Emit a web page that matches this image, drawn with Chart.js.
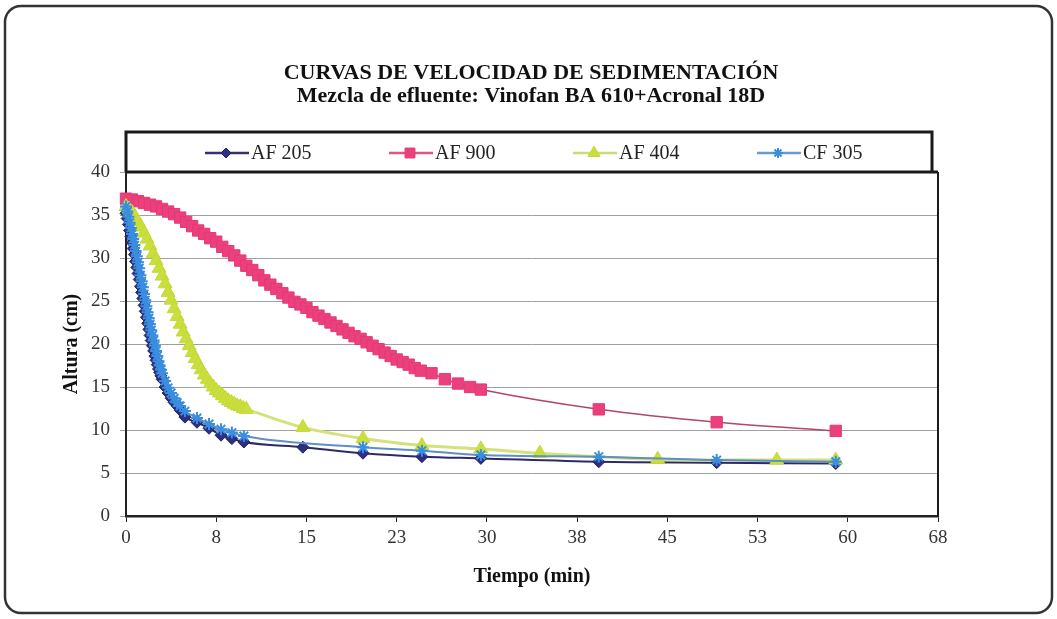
<!DOCTYPE html>
<html>
<head>
<meta charset="utf-8">
<script src="https://cdn.jsdelivr.net/npm/chart.js"></script>
<style>
  html, body { margin: 0; padding: 0; background: #fff; }
  #wrap { width: 1057px; height: 619px; }
</style>
</head>
<body>
<div id="wrap"><canvas id="sedChart" width="1057" height="619"></canvas></div>
<script>
// Tiempo (min) / altura (cm)
const af205Time = [0, 0.1, 0.2, 0.3, 0.4, 0.5, 0.6, 0.7, 0.8, 0.9, 1.0, 1.1, 1.2, 1.3, 1.4, 1.5, 1.6, 1.7, 1.8, 1.9,
  2.0, 2.1, 2.2, 2.3, 2.4, 2.5, 2.6, 2.7, 2.8, 2.9, 3.0, 3.25, 3.5, 3.75, 4.0, 4.25, 4.5,
  4.9, 5.9, 6.9, 7.9, 8.8, 9.8, 14.7, 19.7, 24.6, 29.5, 39.3, 49.1, 59.0];
const af205Height = [35.2, 34.6, 33.9, 33.2, 32.5, 31.8, 31.1, 30.4, 29.6, 28.9, 28.2, 27.5, 26.7, 26.0, 25.3, 24.5, 23.8, 23.1, 22.4, 21.7,
  21.0, 20.4, 19.8, 19.2, 18.6, 18.1, 17.6, 17.1, 16.7, 16.3, 15.9, 15.0, 14.3, 13.7, 13.2, 12.8, 12.3,
  11.5, 10.9, 10.2, 9.4, 9.0, 8.6, 8.0, 7.3, 6.9, 6.7, 6.3, 6.2, 6.1];

const af900Time = [0, 0.5, 1, 1.5, 2, 2.5, 3, 3.5, 4, 4.5, 5, 5.5, 6, 6.5, 7, 7.5, 8, 8.5, 9, 9.5,
  10, 10.5, 11, 11.5, 12, 12.5, 13, 13.5, 14, 14.5, 15, 15.5, 16, 16.5, 17, 17.5, 18, 18.5, 19, 19.5,
  20, 20.5, 21, 21.5, 22, 22.5, 23, 23.5, 24, 24.5, 25.4, 26.5, 27.6, 28.6, 29.5, 39.3, 49.1, 59.0];
const af900Height = [36.9, 36.8, 36.6, 36.4, 36.2, 36.0, 35.7, 35.4, 35.1, 34.7, 34.2, 33.7, 33.2, 32.8, 32.3, 31.9, 31.3, 30.8, 30.3, 29.7,
  29.1, 28.6, 28.0, 27.4, 26.9, 26.4, 25.9, 25.4, 24.9, 24.6, 24.2, 23.7, 23.3, 22.9, 22.5, 22.1, 21.7, 21.3, 20.9, 20.6,
  20.2, 19.8, 19.4, 19.0, 18.6, 18.2, 17.9, 17.6, 17.2, 16.9, 16.6, 15.9, 15.4, 15.0, 14.7, 12.4, 10.9, 9.9];

const af404Time = [0, 0.25, 0.5, 0.75, 1.0, 1.25, 1.5, 1.75, 2.0, 2.25, 2.5, 2.75, 3.0, 3.25, 3.5, 3.75, 4.0, 4.25, 4.5, 4.75,
  5.0, 5.25, 5.5, 5.75, 6.0, 6.25, 6.5, 6.75, 7.0, 7.25, 7.5, 7.75, 8.0, 8.25, 8.5, 8.75, 9.0, 9.25, 9.5, 9.75,
  10.0, 14.7, 19.7, 24.6, 29.5, 34.4, 44.2, 54.1, 59.0];
const af404Height = [36.0, 35.7, 35.3, 34.8, 34.2, 33.6, 32.9, 32.2, 31.4, 30.5, 29.7, 28.8, 27.9, 27.0, 26.0, 25.1, 24.1, 23.2, 22.3, 21.4,
  20.6, 19.8, 19.0, 18.3, 17.6, 17.0, 16.4, 15.9, 15.4, 15.0, 14.6, 14.3, 14.0, 13.7, 13.4, 13.2, 13.0, 12.8, 12.7, 12.5,
  12.4, 10.3, 9.0, 8.2, 7.8, 7.3, 6.6, 6.5, 6.5];

const cf305Time = [0, 0.1, 0.2, 0.3, 0.4, 0.5, 0.6, 0.7, 0.8, 0.9, 1.0, 1.1, 1.2, 1.3, 1.4, 1.5, 1.6, 1.7, 1.8, 1.9,
  2.0, 2.1, 2.2, 2.3, 2.4, 2.5, 2.6, 2.7, 2.8, 2.9, 3.0, 3.25, 3.5, 3.75, 4.0, 4.25, 4.5,
  4.9, 5.9, 6.9, 7.9, 8.8, 9.8, 19.7, 24.6, 29.5, 39.3, 49.1, 59.0];
const cf305Height = [36.0, 35.4, 34.8, 34.1, 33.5, 32.8, 32.2, 31.5, 30.8, 30.2, 29.5, 28.8, 28.0, 27.3, 26.6, 25.8, 25.1, 24.4, 23.7, 23.0,
  22.3, 21.6, 21.0, 20.4, 19.8, 19.2, 18.6, 18.0, 17.5, 17.0, 16.6, 15.7, 14.9, 14.3, 13.7, 13.2, 12.8,
  12.2, 11.4, 10.7, 10.1, 9.7, 9.3, 8.0, 7.6, 7.1, 6.9, 6.5, 6.3];

const seriesNames = ['AF 205', 'AF 900', 'AF 404', 'CF 305'];
const xTickLabels = ['0', '8', '15', '23', '30', '38', '45', '53', '60', '68'];
const yTickLabels = ['0', '5', '10', '15', '20', '25', '30', '35', '40'];

const toPoints = (t, h) => t.map((x, i) => ({ x: x, y: h[i] }));

const serif = "'Liberation Serif', 'Times New Roman', serif";

// marco redondeado exterior
const framePlugin = {
  id: 'outerFrame',
  beforeDraw(chart) {
    const ctx = chart.ctx;
    ctx.save();
    ctx.fillStyle = '#fff';
    ctx.fillRect(0, 0, chart.width, chart.height);
    ctx.strokeStyle = '#333';
    ctx.lineWidth = 2.5;
    ctx.beginPath();
    ctx.roundRect(5, 6, chart.width - 10, chart.height - 12, 16);
    ctx.stroke();
    ctx.restore();
  }
};

// leyenda en recuadro encima del area del grafico (estilo Excel)
const boxLegendPlugin = {
  id: 'boxLegend',
  afterDraw(chart) {
    const { ctx, chartArea } = chart;
    const top = 132, midY = 153;
    ctx.save();
    ctx.strokeStyle = '#1a1a1a';
    ctx.lineWidth = 3;
    ctx.beginPath();
    ctx.moveTo(chartArea.left, chartArea.top);
    ctx.lineTo(chartArea.left, top);
    ctx.lineTo(chartArea.right - 6, top);
    ctx.lineTo(chartArea.right - 6, chartArea.top);
    ctx.stroke();
    // borde superior y derecho del area
    ctx.beginPath();
    ctx.moveTo(chartArea.left, chartArea.top);
    ctx.lineTo(chartArea.right, chartArea.top);
    ctx.stroke();
    ctx.lineWidth = 2;
    ctx.beginPath();
    ctx.moveTo(chartArea.right, chartArea.top);
    ctx.lineTo(chartArea.right, chartArea.bottom);
    ctx.stroke();

    chart.data.datasets.forEach((ds, i) => {
      const x0 = chartArea.left + 79 + i * 184;
      ctx.strokeStyle = ds.legendColor;
      ctx.lineWidth = 2.5;
      ctx.beginPath();
      ctx.moveTo(x0, midY);
      ctx.lineTo(x0 + 44, midY);
      ctx.stroke();
      ctx.fillStyle = ds.pointBackgroundColor;
      ctx.strokeStyle = ds.pointBorderColor;
      ctx.lineWidth = ds.pointBorderWidth;
      Chart.helpers.drawPoint(ctx, {
        pointStyle: ds.pointStyle, radius: ds.pointRadius - 1, rotation: 0, borderWidth: ds.pointBorderWidth
      }, x0 + 21, midY);
      ctx.fillStyle = '#222';
      ctx.font = '20px ' + serif;
      ctx.textBaseline = 'middle';
      ctx.textAlign = 'left';
      ctx.fillText(ds.label, x0 + 46, midY + 1);
    });
    ctx.restore();
  }
};

const canvasElement = document.getElementById('sedChart');
const sedChart = new Chart(canvasElement, {
  type: 'line',
  data: {
    datasets: [{
      label: seriesNames[0],
      data: toPoints(af205Time, af205Height),
      order: 4,
      borderColor: '#2c2a68',
      borderWidth: 2,
      legendColor: '#3a2f70',
      pointStyle: 'rectRot',
      pointRadius: 6,
      pointBackgroundColor: '#2e2f82',
      pointBorderColor: '#23245f',
      pointBorderWidth: 1
    }, {
      label: seriesNames[1],
      data: toPoints(af900Time, af900Height),
      order: 3,
      borderColor: '#b0456e',
      borderWidth: 1.5,
      legendColor: '#e05585',
      pointStyle: 'rect',
      pointRadius: 8,
      pointBackgroundColor: '#ec3f7d',
      pointBorderColor: '#e23a75',
      pointBorderWidth: 1
    }, {
      label: seriesNames[2],
      data: toPoints(af404Time, af404Height),
      order: 2,
      borderColor: '#d3e27a',
      borderWidth: 3,
      legendColor: '#c8dc7a',
      pointStyle: 'triangle',
      pointRadius: 8,
      pointBackgroundColor: '#cade3c',
      pointBorderColor: '#c4d83a',
      pointBorderWidth: 1
    }, {
      label: seriesNames[3],
      data: toPoints(cf305Time, cf305Height),
      order: 1,
      borderColor: '#5f8fc4',
      borderWidth: 2,
      legendColor: '#6a9acb',
      pointStyle: 'star',
      pointRadius: 6,
      pointBackgroundColor: '#3a8ee0',
      pointBorderColor: '#3a8ee0',
      pointBorderWidth: 2
    }]
  },
  options: {
    responsive: false,
    animation: false,
    clip: false,
    tension: 0.4,
    cubicInterpolationMode: 'monotone',
    layout: { padding: { left: 20, right: 15, top: 62, bottom: 20 } },
    plugins: {
      legend: { display: false },
      tooltip: { enabled: false },
      title: {
        display: true,
        text: 'CURVAS DE VELOCIDAD DE SEDIMENTACIÓN',
        color: '#111',
        font: { family: serif, size: 22, weight: 'bold', lineHeight: 1.0 },
        padding: { top: 0, bottom: 1 }
      },
      subtitle: {
        display: true,
        text: 'Mezcla de efluente: Vinofan BA 610+Acronal 18D',
        color: '#111',
        font: { family: serif, size: 22, weight: 'bold', lineHeight: 1.0 },
        padding: { top: 0, bottom: 65 }
      }
    },
    scales: {
      x: {
        type: 'linear',
        min: 0,
        max: 67.5,
        afterFit: (scale) => { scale.height = 83; },
        ticks: {
          stepSize: 7.5,
          color: '#333',
          padding: 5,
          maxRotation: 0,
          font: { family: serif, size: 19 },
          callback: (value, index) => xTickLabels[index]
        },
        grid: { drawOnChartArea: false, drawTicks: true, tickLength: 6, color: '#222' },
        border: { color: '#222', width: 2.5 },
        title: {
          display: true,
          text: 'Tiempo (min)',
          color: '#111',
          font: { family: serif, size: 20, weight: 'bold' },
          padding: { top: 0, bottom: 10 }
        }
      },
      y: {
        min: 0,
        max: 40,
        afterFit: (scale) => { scale.width = 106; },
        ticks: {
          stepSize: 5,
          color: '#333',
          padding: 10,
          font: { family: serif, size: 19 },
          callback: (value, index) => yTickLabels[index]
        },
        grid: { color: '#a0a0a0', lineWidth: 1, tickLength: 6 },
        border: { color: '#222', width: 2 },
        title: {
          display: true,
          text: 'Altura (cm)',
          color: '#111',
          font: { family: serif, size: 20, weight: 'bold' },
          padding: { top: 40, bottom: 0 }
        }
      },
      // eje vacio a la derecha: reserva el margen para que el titulo quede centrado
      yRight: {
        position: 'right',
        display: true,
        afterFit: (scale) => { scale.width = 104; },
        ticks: { display: false },
        grid: { display: false },
        border: { display: false }
      }
    }
  },
  plugins: [framePlugin, boxLegendPlugin]
});
</script>
</body>
</html>
